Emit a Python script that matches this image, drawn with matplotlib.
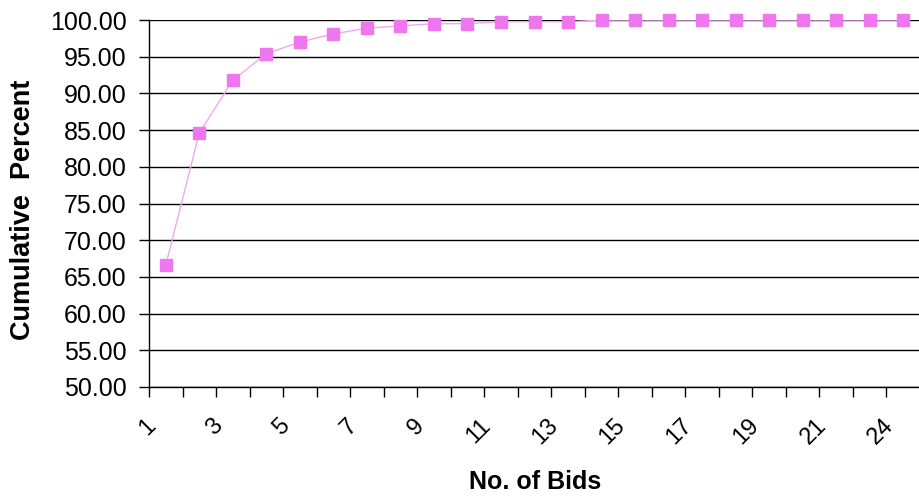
import matplotlib
matplotlib.use("Agg")
import matplotlib.pyplot as plt
import matplotlib.transforms as mtransforms
from matplotlib.ticker import MultipleLocator, FixedLocator

# categories (no. of bids) and cumulative percent
bids = ["1", "2", "3", "4", "5", "6", "7", "8", "9", "10", "11", "12",
        "13", "14", "15", "16", "17", "18", "19", "20", "21", "22", "24"]
cum_pct = [66.6, 84.6, 91.8, 95.4, 97.0, 98.1, 98.9, 99.2, 99.5, 99.5,
           99.77, 99.77, 99.75, 100.0, 100.0, 100.0, 100.0, 100.0, 100.0,
           100.0, 100.0, 100.0, 100.0]

plt.rcParams['font.family'] = ['Liberation Sans', 'DejaVu Sans']

fig = plt.figure(figsize=(9.19, 4.96), dpi=100)
ax = fig.add_axes([149 / 919, 109 / 496, 771 / 919, 367 / 496])

pos = list(range(1, len(bids) + 1))
ax.plot(pos, cum_pct, color='#F2A6F2', lw=1.0, zorder=3)
ax.plot(pos, cum_pct, ls='none', marker='s', ms=8.6, mfc='#EE77EE',
        mec='#EE77EE', zorder=4, clip_on=False)

ax.set_xlim(0.5, len(bids) + 0.5)
ax.set_ylim(50, 100)
ax.yaxis.set_major_locator(MultipleLocator(5))
ax.yaxis.set_major_formatter(matplotlib.ticker.FormatStrFormatter('%.2f'))
ax.grid(axis='y', color='black', lw=1.0)
ax.set_axisbelow(True)

for s in ['top', 'right']:
    ax.spines[s].set_visible(False)
ax.spines['left'].set_linewidth(1.0)
ax.spines['bottom'].set_linewidth(1.0)

# ticks between categories, labels on every other category
ax.xaxis.set_minor_locator(FixedLocator([p - 0.5 for p in pos]))
ax.set_xticks(pos[::2])
ax.set_xticklabels(bids[::2])
ax.tick_params(axis='x', which='major', length=0, pad=20, labelsize=17)
ax.tick_params(axis='x', which='minor', length=7, width=1, direction='out')
ax.tick_params(axis='y', length=7, width=1, direction='out', pad=9,
               labelsize=18)

off = mtransforms.ScaledTranslation(-21 / 100, 0, fig.dpi_scale_trans)
for lbl in ax.get_xticklabels():
    lbl.set_rotation(45)
    lbl.set_ha('right')
    lbl.set_va('top')
    lbl.set_rotation_mode('anchor')
    lbl.set_transform(lbl.get_transform() + off)

fig.text(535 / 919, 1 - 482 / 496, "No. of Bids", ha='center', va='center',
         fontsize=18, fontweight='bold')
fig.text(23 / 919, 1 - 210 / 496, "Cumulative  Percent", ha='center',
         va='center', rotation=90, fontsize=19.5, fontweight='bold')

fig.savefig("out.png", dpi=100)
